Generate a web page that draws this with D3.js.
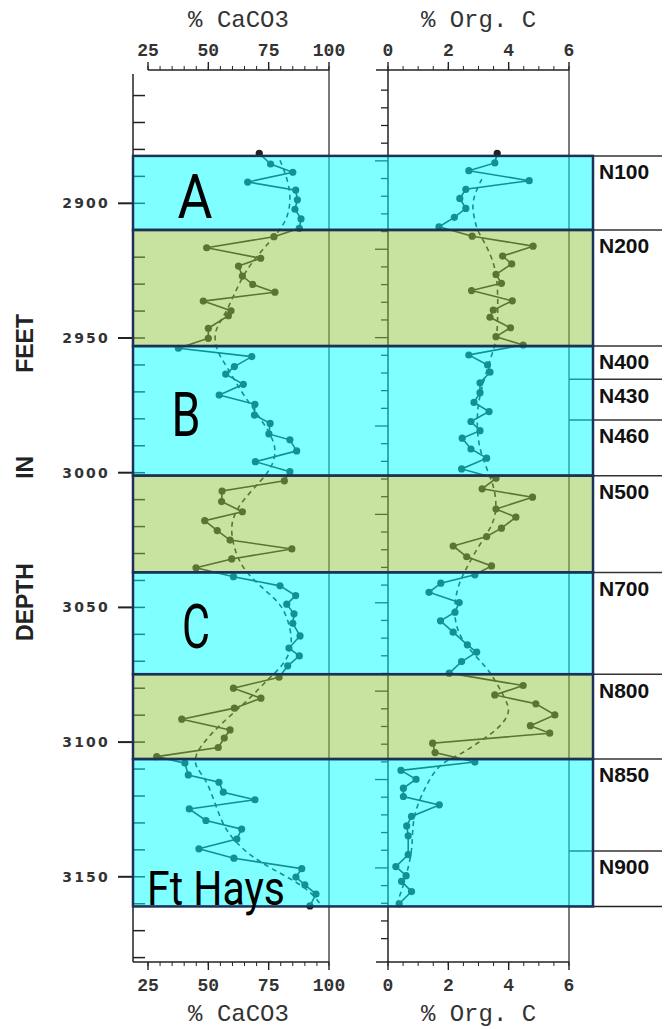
<!DOCTYPE html>
<html>
<head>
<meta charset="utf-8">
<script src="https://cdn.jsdelivr.net/npm/d3@7"></script>
<style>
body { margin: 0; background: #fff; }
</style>
</head>
<body>
<script>
// ---- data (depth in feet) ----
var caDepth = [2881.5, 2885.4, 2888.5, 2892.1, 2895.1, 2898.7, 2902.2, 2905.8, 2909.3,
  2912.4, 2916.5, 2920.4, 2923.3, 2927.0, 2930.1, 2933.0, 2936.3, 2939.9, 2941.7, 2946.4, 2950.1,
  2953.8, 2956.9, 2960.6, 2963.4, 2967.2, 2971.2, 2974.6, 2978.6, 2981.7, 2985.6, 2987.8, 2991.9, 2995.9, 2999.6,
  3003.0, 3006.8, 3010.7, 3014.5, 3017.8, 3021.5, 3025.0, 3028.3, 3032.0, 3035.3,
  3038.6, 3042.0, 3045.6, 3048.8, 3052.4, 3055.9, 3060.6, 3065.1, 3068.0, 3071.7,
  3075.9, 3080.0, 3083.7, 3087.4, 3091.5, 3095.5, 3098.5, 3102.0, 3105.4,
  3107.8, 3112.2, 3114.9, 3118.6, 3121.4, 3124.8, 3129.1, 3132.3, 3136.0, 3139.6, 3143.1, 3147.0, 3150.1, 3153.0, 3156.4, 3160.8];
var caValue = [71.1, 75.8, 85.0, 66.3, 86.2, 86.9, 85.9, 88.4, 87.7,
  77.2, 49.3, 71.7, 62.5, 64.1, 68.4, 77.6, 47.9, 59.4, 58.3, 50.0, 50.0,
  37.6, 68.0, 60.8, 57.2, 64.5, 54.5, 69.3, 69.1, 75.6, 75.1, 83.8, 86.6, 69.5, 83.8,
  81.5, 55.7, 55.5, 64.1, 48.5, 53.7, 59.0, 84.6, 59.7, 44.9,
  60.4, 79.7, 86.2, 82.5, 85.5, 85.0, 88.0, 83.4, 87.7, 82.9,
  79.3, 60.4, 71.8, 60.8, 39.0, 59.0, 56.6, 54.1, 28.6,
  40.3, 41.7, 54.4, 56.2, 69.3, 42.1, 49.0, 63.8, 61.8, 46.1, 60.6, 88.7, 86.3, 90.0, 94.6, 92.1];
var caTrendDepth = [2884, 2891.4, 2898.8, 2906.2, 2911.8, 2917.4, 2924.8, 2932.2, 2941.5, 2947.8,
  2955.2, 2960.0, 2971.2, 2980.4, 2990.5, 2997.9, 3002.7, 3011.2, 3019.4, 3029.8, 3036.9,
  3044.3, 3049.1, 3056.5, 3065.1, 3072.1, 3076.9, 3083.2, 3094.4, 3101.8, 3105.5,
  3109.2, 3114.1, 3125.2, 3133.8, 3141.3, 3146.8, 3153.9, 3160.0];
var caTrendValue = [79.7, 83.0, 84.3, 82.6, 78.0, 72.2, 65.6, 61.5, 56.9, 51.9,
  53.6, 57.3, 64.4, 72.2, 78.9, 76.4, 72.2, 63.1, 58.6, 61.1, 65.2,
  74.3, 80.5, 83.8, 85.1, 80.5, 74.3, 68.1, 53.6, 46.5, 44.5,
  44.5, 49.5, 53.6, 57.7, 66.0, 75.6, 90.9, 96.3];

var ocDepth = [2881.5, 2885.0, 2887.9, 2891.6, 2894.8, 2898.2, 2901.9, 2905.2, 2908.7,
  2912.2, 2915.9, 2919.6, 2922.5, 2926.4, 2929.7, 2932.4, 2936.2, 2939.6, 2942.3, 2946.2, 2949.5, 2952.6,
  2956.3, 2960.0, 2962.7, 2966.6, 2970.3, 2973.9, 2977.3, 2981.0, 2984.4, 2987.2, 2991.2, 2994.6, 2998.6,
  3002.1, 3006.0, 3009.1, 3013.5, 3016.5, 3020.6, 3023.7, 3027.2, 3031.2, 3034.6,
  3037.9, 3041.0, 3044.4, 3048.2, 3051.8, 3055.0, 3059.2, 3063.9, 3066.6, 3070.1, 3074.4,
  3079.0, 3082.5, 3085.8, 3089.9, 3093.9, 3096.7, 3100.4, 3103.9, 3107.4,
  3110.5, 3113.8, 3117.1, 3120.2, 3123.3, 3127.6, 3131.1, 3134.8, 3141.8, 3146.2, 3149.6, 3151.7, 3155.5, 3160.0];
var ocValue = [3.62, 3.54, 2.68, 4.68, 2.58, 2.38, 2.58, 2.20, 1.69,
  2.79, 4.81, 3.80, 4.10, 3.58, 3.76, 2.77, 4.12, 3.49, 3.38, 4.06, 3.58, 4.48,
  2.68, 3.30, 3.38, 3.05, 3.05, 2.85, 3.35, 2.75, 3.05, 2.46, 2.75, 3.27, 2.44,
  3.58, 3.12, 4.79, 3.58, 4.24, 3.76, 3.27, 2.16, 2.61, 3.43,
  2.88, 1.75, 1.36, 2.36, 2.22, 1.74, 2.16, 2.63, 2.94, 2.44, 2.03,
  4.48, 3.54, 4.90, 5.53, 4.72, 5.36, 1.48, 1.56, 2.88,
  0.43, 0.93, 0.51, 0.51, 1.70, 0.78, 0.62, 0.67, 0.67, 0.26, 0.60, 0.45, 0.78, 0.37];
var ocTrendDepth = [2891.0, 2896.2, 2901.4, 2906.2, 2909.9, 2914.7, 2921.0, 2928.5, 2942.2, 2950.7,
  2958.2, 2966.7, 2975.6, 2987.9, 2997.1, 3005.3, 3013.8, 3020.2, 3027.6, 3035.0,
  3042.4, 3053.6, 3063.2, 3072.1, 3078.8, 3087.0, 3090.7, 3095.5, 3100.3, 3104.8,
  3107.8, 3115.2, 3127.8, 3139.0, 3148.6, 3154.9, 3159.7];
var ocTrendValue = [3.11, 2.88, 2.78, 2.88, 2.95, 3.21, 3.48, 3.64, 3.64, 3.61,
  3.38, 3.15, 2.95, 2.95, 3.21, 3.54, 3.61, 3.44, 2.98, 2.62,
  2.28, 2.15, 2.45, 3.28, 3.64, 4.04, 3.97, 3.61, 2.98, 2.38,
  1.72, 1.29, 0.79, 0.83, 0.63, 0.46, 0.30];

// zones (overlay bands)
var zoneTop    = [2882.4, 2909.9, 2953.0, 3001.1, 3037.0, 3074.8, 3106.3];
var zoneBase   = [2909.9, 2953.0, 3001.1, 3037.0, 3074.8, 3106.3, 3161.0];
var zoneFacies = ["cyan", "green", "cyan", "green", "cyan", "green", "cyan"];
var zoneLetters = ["A", "B", "C", "Ft Hays"];
var zoneLetterZone = [0, 2, 4, 6];

// units column
var unitNames = ["N100", "N200", "N400", "N430", "N460", "N500", "N700", "N800", "N850", "N900"];
var unitTop   = [2882.4, 2909.9, 2953.0, 2965.3, 2980.4, 3001.1, 3037.0, 3074.8, 3106.3, 3140.4];

var depthLabels = [2900, 2950, 3000, 3050, 3100, 3150];
var caLabels = [25, 50, 75, 100];
var ocLabels = [0, 2, 4, 6];

// ---- layout ----
var W = 666, H = 1029;
var svg = d3.select("body").append("svg")
  .attr("width", W).attr("height", H)
  .style("font-family", "'Liberation Mono', monospace");

var y = d3.scaleLinear().domain([2852, 3182]).range([74, 963]);
var xCa = d3.scaleLinear().domain([25, 100]).range([148, 329]);
var xOc = d3.scaleLinear().domain([0, 6]).range([388, 569]);
// meter ticks on the Org C panel
var yM = function(m){ return y(m * 3.28084 - 2.9); };

var topY = 70, botY = 962, leftX = 133, bandRight = 593;
var ink = "#222";

var base = svg.append("g");

// ---- frames ----
function vline(g, x, y1, y2, w){
  g.append("line").attr("x1", x).attr("x2", x).attr("y1", y1).attr("y2", y2)
    .attr("stroke", ink).attr("stroke-width", w || 1.2);
}
function hline(g, y0, x1, x2, w){
  g.append("line").attr("x1", x1).attr("x2", x2).attr("y1", y0).attr("y2", y0)
    .attr("stroke", ink).attr("stroke-width", w || 1.2);
}
vline(base, leftX, y(2852), botY, 1.5);
vline(base, xCa(100), topY, botY);
hline(base, topY, xCa(25), xCa(100), 1.5);
hline(base, botY, leftX, xCa(100), 1.5);

vline(base, xOc(0), topY, botY, 1.5);
vline(base, xOc(6), topY, botY);
hline(base, topY, xOc(0) - 12, xOc(6), 1.5);
hline(base, botY, xOc(0) - 12, xOc(6), 1.5);

// ---- x axes (top & bottom) ----
function xTicks(g, scale, minorVals, majorVals, yPos, dir){
  g.selectAll(null).data(minorVals).enter().append("line")
    .attr("x1", scale).attr("x2", scale)
    .attr("y1", yPos).attr("y2", yPos + dir * 4)
    .attr("stroke", ink).attr("stroke-width", 1);
  g.selectAll(null).data(majorVals).enter().append("line")
    .attr("x1", scale).attr("x2", scale)
    .attr("y1", yPos).attr("y2", yPos + dir * 8)
    .attr("stroke", ink).attr("stroke-width", 1.4);
}
xTicks(base, xCa, d3.range(25, 101, 5), caLabels, topY, -1);
xTicks(base, xCa, d3.range(25, 101, 5), caLabels, botY, 1);
xTicks(base, xOc, d3.range(0, 6.01, 0.5), ocLabels, topY, -1);
xTicks(base, xOc, d3.range(0, 6.01, 0.5), ocLabels, botY, 1);

function xLabels(scale, vals, yPos){
  base.selectAll(null).data(vals).enter().append("text")
    .attr("x", scale).attr("y", yPos)
    .attr("text-anchor", "middle")
    .attr("font-size", 18).attr("font-weight", "bold")
    .attr("fill", "#333")
    .text(function(d){ return d; });
}
xLabels(xCa, caLabels, 56);
xLabels(xOc, ocLabels, 56);
xLabels(xCa, caLabels, 991);
xLabels(xOc, ocLabels, 991);

function title(x, yPos, t){
  base.append("text").attr("x", x).attr("y", yPos)
    .attr("text-anchor", "middle").attr("font-size", 24)
    .attr("fill", "#333").text(t);
}
title(xCa(62.5), 27, "% CaCO3");
title(xOc(3), 27, "% Org. C");
title(xCa(62.5), 1021, "% CaCO3");
title(xOc(3), 1021, "% Org. C");

// ---- depth axis ----
var minorDepth = d3.range(2860, 3181, 10);
base.selectAll(null).data(minorDepth).enter().append("line")
  .attr("x1", leftX).attr("x2", leftX + 12)
  .attr("y1", y).attr("y2", y)
  .attr("stroke", ink).attr("stroke-width", 1.5);
base.selectAll(null).data(depthLabels).enter().append("line")
  .attr("x1", leftX - 15).attr("x2", leftX)
  .attr("y1", y).attr("y2", y)
  .attr("stroke", ink).attr("stroke-width", 2);
base.selectAll(null).data(depthLabels).enter().append("text")
  .attr("x", leftX - 23).attr("y", y)
  .attr("dy", "0.36em")
  .attr("text-anchor", "end")
  .attr("font-family", "'DejaVu Sans', sans-serif")
  .attr("font-weight", "bold").attr("font-size", 14)
  .attr("letter-spacing", 2.2)
  .attr("fill", "#333")
  .text(function(d){ return d; });

var axisWords = [["FEET", 2952], ["IN", 2998], ["DEPTH", 3048]];
base.selectAll(null).data(axisWords).enter().append("text")
  .attr("transform", function(d){ return "translate(33," + y(d[1]) + ") rotate(-90)"; })
  .attr("text-anchor", "middle")
  .attr("font-family", "'Liberation Sans', Arial, sans-serif")
  .attr("font-weight", "bold").attr("font-size", 23)
  .attr("fill", "#222")
  .text(function(d){ return d[0]; });

// meter ticks, Org C panel
var meterTicks = d3.range(872, 969, 2);
base.selectAll(null).data(meterTicks).enter().append("line")
  .attr("x1", function(m){ return xOc(0) - (m % 10 === 0 ? 13 : 7); })
  .attr("x2", xOc(0))
  .attr("y1", yM).attr("y2", yM)
  .attr("stroke", ink).attr("stroke-width", 1.3);

// ---- unit column lines ----
base.selectAll(null).data(unitTop).enter().append("line")
  .attr("x1", xOc(6)).attr("x2", 662)
  .attr("y1", y).attr("y2", y)
  .attr("stroke", "#333").attr("stroke-width", 1.5);
hline(base, y(3161.0), xOc(6), 662, 1.5);

// ---- series ----
function drawSeries(depths, vals, tD, tV, xs){
  var pts = depths.map(function(d, i){ return [xs(vals[i]), y(d)]; });
  var tpts = tD.map(function(d, i){ return [xs(tV[i]), y(d)]; });
  base.append("path")
    .attr("d", d3.line().curve(d3.curveBasis)(tpts))
    .attr("fill", "none").attr("stroke", ink)
    .attr("stroke-width", 1.6).attr("stroke-dasharray", "5,4");
  base.append("path")
    .attr("d", d3.line()(pts))
    .attr("fill", "none").attr("stroke", ink).attr("stroke-width", 1.6);
  base.selectAll(null).data(pts).enter().append("circle")
    .attr("cx", function(p){ return p[0]; })
    .attr("cy", function(p){ return p[1]; })
    .attr("r", 3.6).attr("fill", ink);
}
drawSeries(caDepth, caValue, caTrendDepth, caTrendValue, xCa);
drawSeries(ocDepth, ocValue, ocTrendDepth, ocTrendValue, xOc);

// ---- colour overlay ----
var faciesColor = { cyan: "rgb(0,255,255)", green: "rgb(145,197,65)" };
var over = svg.append("g");
over.selectAll("rect").data(zoneTop).enter().append("rect")
  .attr("x", leftX).attr("width", bandRight - leftX)
  .attr("y", function(d){ return y(d); })
  .attr("height", function(d, i){ return y(zoneBase[i]) - y(d); })
  .attr("fill", function(d, i){ return faciesColor[zoneFacies[i]]; })
  .attr("fill-opacity", 0.5)
  .attr("stroke", "#1d3158").attr("stroke-width", 2.5);

// zone letters
over.selectAll(null).data(zoneLetters).enter().append("text")
  .attr("x", function(d, i){ return i === 3 ? 147 : [195, 186, 196][i]; })
  .attr("y", function(d, i){
    var z = zoneLetterZone[i];
    return i === 3 ? y(zoneBase[z]) - 19 : (y(zoneTop[z]) + y(zoneBase[z])) / 2 + 3;
  })
  .attr("dy", "0.35em")
  .attr("text-anchor", function(d, i){ return i === 3 ? "start" : "middle"; })
  .attr("font-family", "Roboto, sans-serif")
  .attr("font-size", function(d, i){ return i === 3 ? 49 : 62; })
  .attr("textLength", function(d, i){ return [35, 29, 28, 138][i]; })
  .attr("lengthAdjust", "spacingAndGlyphs")
  .attr("fill", "#000")
  .text(function(d){ return d; });

// unit names
over.selectAll(null).data(unitNames).enter().append("text")
  .attr("x", 599)
  .attr("y", function(d, i){ return y(unitTop[i]) + 16; })
  .attr("dy", "0.35em")
  .attr("font-family", "'Liberation Sans', Arial, sans-serif")
  .attr("font-weight", "bold").attr("font-size", 21)
  .attr("fill", "#111")
  .text(function(d){ return d; });
</script>
</body>
</html>
